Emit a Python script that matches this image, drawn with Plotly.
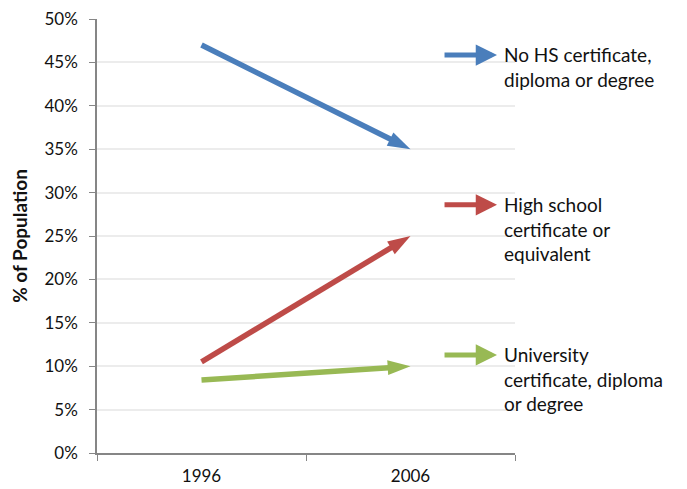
import plotly.graph_objects as go

# Share of population by highest level of education
years = ["1996", "2006"]
no_hs = [47.0, 35.0]
high_school = [10.5, 25.0]
university = [8.4, 10.0]

series_names = [
    "No HS certificate,<br>diploma or degree",
    "High school<br>certificate or<br>equivalent",
    "University<br>certificate, diploma<br>or degree",
]
series_values = [no_hs, high_school, university]
series_colors = ["#4a7ebb", "#be4b48", "#98b954"]
legend_y = [45.85, 28.6, 11.3]

y_ticks = list(range(0, 51, 5))
y_tick_labels = [f"{v}%" for v in y_ticks]

FONT = "Lato, Calibri, Carlito, sans-serif"

fig = go.Figure()
for name, vals, col in zip(series_names, series_values, series_colors):
    fig.add_trace(go.Scatter(
        x=years, y=vals, mode="lines+markers", name=name,
        line=dict(color=col, width=5.5),
        marker=dict(symbol=["circle", "arrow"], size=[0, 24], color=col,
                    opacity=1, angleref="previous", line=dict(width=0)),
        showlegend=False, hoverinfo="skip",
    ))

# Legend drawn as arrows with labels at the right
for name, col, ly in zip(series_names, series_colors, legend_y):
    fig.add_annotation(
        xref="paper", yref="y", x=0.957, y=ly, ax=-54, ay=0,
        axref="pixel", ayref="pixel", text="", showarrow=True,
        arrowhead=2, arrowsize=0.85, arrowwidth=5, arrowcolor=col,
        standoff=0,
    )
    fig.add_annotation(
        xref="paper", yref="y", x=0.970, y=ly, xanchor="left", yanchor="top",
        yshift=14, text=name, showarrow=False, align="left",
        font=dict(family=FONT, size=19, color="#111111"),
    )

fig.update_layout(
    width=687, height=489,
    margin=dict(l=97, r=172, t=19, b=36),
    paper_bgcolor="white", plot_bgcolor="white",
    font=dict(family=FONT, size=17, color="#111111"),
)
fig.update_xaxes(
    type="category", range=[-0.5, 1.5], showgrid=False, automargin=False,
    showline=True, linecolor="#868686", linewidth=1.5,
    ticks="outside", tickson="boundaries", ticklen=6, tickcolor="#868686",
    ticklabelstandoff=7,
    tickfont=dict(family=FONT, size=17, color="#111111"),
)
fig.update_yaxes(
    range=[0, 50], tickmode="array", tickvals=y_ticks, ticktext=y_tick_labels,
    automargin=False,
    showgrid=True, gridcolor="#ececec", gridwidth=1.5,
    showline=True, linecolor="#868686", linewidth=1.5,
    ticks="outside", ticklen=6, tickcolor="#868686", zeroline=False,
    ticklabelstandoff=8,
    tickfont=dict(family=FONT, size=17, color="#111111"),
    title=dict(text="<b>% of Population</b>", standoff=12,
               font=dict(family=FONT, size=19, color="#111111")),
)

fig.write_html("out.html")
